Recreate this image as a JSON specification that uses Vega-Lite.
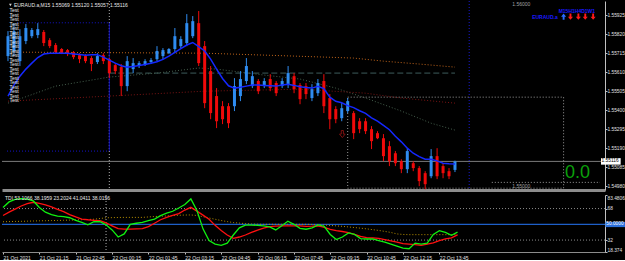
{
"$schema":"https://vega.github.io/schema/vega-lite/v6.json",
"background":"#000000",
"padding":0,
"spacing":5,
"bounds":"flush",
"config":{"view":{"stroke":null},"text":{"font":"Liberation Sans","fontSize":5,"color":"#e0e0e0"}},
"datasets":{
"bars":[
{"t":"2021-10-21T19:45:00Z","o":1.55698,"h":1.55836,"l":1.55670,"c":1.55808,"ma":1.55477,"d":"up","g":69.2,"r":60.1,"m":52.9},
{"t":"2021-10-21T20:00:00Z","o":1.55726,"h":1.55880,"l":1.55698,"c":1.55836,"ma":1.55538,"d":"up","g":75.6,"r":63.9,"m":53.1},
{"t":"2021-10-21T20:15:00Z","o":1.55670,"h":1.55847,"l":1.55643,"c":1.55808,"ma":1.55587,"d":"up","g":78.5,"r":67.4,"m":53.3},
{"t":"2021-10-21T20:30:00Z","o":1.55781,"h":1.55875,"l":1.55764,"c":1.55853,"ma":1.55626,"d":"up","g":79.3,"r":70.9,"m":53.4},
{"t":"2021-10-21T20:45:00Z","o":1.55808,"h":1.55853,"l":1.55797,"c":1.55842,"ma":1.55659,"d":"up","g":78.7,"r":73.5,"m":53.6},
{"t":"2021-10-21T21:00:00Z","o":1.55814,"h":1.55880,"l":1.55797,"c":1.55847,"ma":1.55690,"d":"up","g":76.7,"r":75.2,"m":53.8},
{"t":"2021-10-21T21:15:00Z","o":1.55831,"h":1.55842,"l":1.55753,"c":1.55770,"ma":1.55709,"d":"down","g":69.2,"r":74.0,"m":54.0},
{"t":"2021-10-21T21:30:00Z","o":1.55786,"h":1.55797,"l":1.55742,"c":1.55753,"ma":1.55714,"d":"down","g":63.9,"r":72.3,"m":54.1},
{"t":"2021-10-21T21:45:00Z","o":1.55759,"h":1.55770,"l":1.55709,"c":1.55720,"ma":1.55714,"d":"down","g":61.0,"r":70.0,"m":54.3},
{"t":"2021-10-21T22:00:00Z","o":1.55737,"h":1.55742,"l":1.55709,"c":1.55714,"ma":1.55714,"d":"down","g":59.3,"r":67.1,"m":54.4},
{"t":"2021-10-21T22:15:00Z","o":1.55731,"h":1.55737,"l":1.55698,"c":1.55709,"ma":1.55713,"d":"down","g":58.7,"r":64.5,"m":54.6},
{"t":"2021-10-21T22:30:00Z","o":1.55720,"h":1.55726,"l":1.55681,"c":1.55692,"ma":1.55710,"d":"down","g":57.5,"r":61.0,"m":54.8},
{"t":"2021-10-21T22:45:00Z","o":1.55703,"h":1.55714,"l":1.55659,"c":1.55681,"ma":1.55707,"d":"down","g":54.6,"r":58.4,"m":55.0},
{"t":"2021-10-21T23:00:00Z","o":1.55698,"h":1.55709,"l":1.55659,"c":1.55670,"ma":1.55703,"d":"down","g":52.1,"r":56.0,"m":55.3},
{"t":"2021-10-21T23:15:00Z","o":1.55687,"h":1.55698,"l":1.55615,"c":1.55654,"ma":1.55706,"d":"down","g":49.4,"r":55.2,"m":55.5},
{"t":"2021-10-21T23:30:00Z","o":1.55665,"h":1.55714,"l":1.55654,"c":1.55698,"ma":1.55706,"d":"up","g":52.9,"r":54.6,"m":55.8},
{"t":"2021-10-21T23:45:00Z","o":1.55703,"h":1.55714,"l":1.55654,"c":1.55670,"ma":1.55692,"d":"down","g":52.9,"r":54.1,"m":56.6},
{"t":"2021-10-22T00:00:00Z","o":1.55681,"h":1.55687,"l":1.55576,"c":1.55604,"ma":1.55676,"d":"down","g":49.4,"r":51.7,"m":57.5},
{"t":"2021-10-22T00:15:00Z","o":1.55648,"h":1.55659,"l":1.55598,"c":1.55615,"ma":1.55659,"d":"down","g":43.6,"r":48.3,"m":57.6},
{"t":"2021-10-22T00:30:00Z","o":1.55637,"h":1.55654,"l":1.55477,"c":1.55532,"ma":1.55645,"d":"down","g":35.5,"r":45.0,"m":57.8},
{"t":"2021-10-22T00:45:00Z","o":1.55532,"h":1.55698,"l":1.55504,"c":1.55670,"ma":1.55637,"d":"up","g":39.0,"r":44.5,"m":57.9},
{"t":"2021-10-22T01:00:00Z","o":1.55626,"h":1.55687,"l":1.55604,"c":1.55659,"ma":1.55641,"d":"up","g":50.0,"r":44.4,"m":57.9},
{"t":"2021-10-22T01:15:00Z","o":1.55643,"h":1.55670,"l":1.55632,"c":1.55659,"ma":1.55646,"d":"up","g":51.2,"r":44.8,"m":57.9},
{"t":"2021-10-22T01:30:00Z","o":1.55654,"h":1.55681,"l":1.55643,"c":1.55670,"ma":1.55652,"d":"up","g":52.1,"r":45.1,"m":57.9},
{"t":"2021-10-22T01:45:00Z","o":1.55665,"h":1.55687,"l":1.55654,"c":1.55676,"ma":1.55658,"d":"up","g":54.1,"r":47.4,"m":58.4},
{"t":"2021-10-22T02:00:00Z","o":1.55681,"h":1.55753,"l":1.55670,"c":1.55726,"ma":1.55667,"d":"up","g":56.0,"r":51.2,"m":58.9},
{"t":"2021-10-22T02:15:00Z","o":1.55698,"h":1.55742,"l":1.55681,"c":1.55731,"ma":1.55680,"d":"up","g":59.9,"r":55.2,"m":59.2},
{"t":"2021-10-22T02:30:00Z","o":1.55714,"h":1.55742,"l":1.55709,"c":1.55737,"ma":1.55698,"d":"up","g":62.8,"r":57.9,"m":59.6},
{"t":"2021-10-22T02:45:00Z","o":1.55737,"h":1.55853,"l":1.55714,"c":1.55808,"ma":1.55719,"d":"up","g":64.9,"r":60.2,"m":59.9},
{"t":"2021-10-22T03:00:00Z","o":1.55753,"h":1.55808,"l":1.55742,"c":1.55792,"ma":1.55739,"d":"up","g":68.6,"r":62.2,"m":60.3},
{"t":"2021-10-22T03:15:00Z","o":1.55770,"h":1.55930,"l":1.55753,"c":1.55880,"ma":1.55759,"d":"up","g":72.6,"r":66.3,"m":60.6},
{"t":"2021-10-22T03:30:00Z","o":1.55808,"h":1.55919,"l":1.55797,"c":1.55891,"ma":1.55773,"d":"up","g":79.0,"r":69.4,"m":60.7},
{"t":"2021-10-22T03:45:00Z","o":1.55880,"h":1.55947,"l":1.55643,"c":1.55659,"ma":1.55750,"d":"down","g":65.7,"r":65.1,"m":60.1},
{"t":"2021-10-22T04:00:00Z","o":1.55753,"h":1.55781,"l":1.55410,"c":1.55438,"ma":1.55726,"d":"down","g":44.8,"r":60.5,"m":58.7},
{"t":"2021-10-22T04:15:00Z","o":1.55615,"h":1.55643,"l":1.55349,"c":1.55383,"ma":1.55681,"d":"down","g":31.4,"r":55.8,"m":57.2},
{"t":"2021-10-22T04:30:00Z","o":1.55477,"h":1.55521,"l":1.55300,"c":1.55338,"ma":1.55626,"d":"down","g":27.4,"r":48.8,"m":55.8},
{"t":"2021-10-22T04:45:00Z","o":1.55421,"h":1.55449,"l":1.55322,"c":1.55349,"ma":1.55574,"d":"down","g":26.0,"r":43.0,"m":54.3},
{"t":"2021-10-22T05:00:00Z","o":1.55421,"h":1.55438,"l":1.55300,"c":1.55327,"ma":1.55534,"d":"down","g":28.5,"r":37.8,"m":53.1},
{"t":"2021-10-22T05:15:00Z","o":1.55421,"h":1.55576,"l":1.55394,"c":1.55532,"ma":1.55521,"d":"up","g":37.8,"r":33.9,"m":52.0},
{"t":"2021-10-22T05:30:00Z","o":1.55477,"h":1.55615,"l":1.55449,"c":1.55571,"ma":1.55526,"d":"up","g":45.9,"r":35.5,"m":51.4},
{"t":"2021-10-22T05:45:00Z","o":1.55560,"h":1.55687,"l":1.55543,"c":1.55643,"ma":1.55532,"d":"up","g":49.1,"r":37.8,"m":50.8},
{"t":"2021-10-22T06:00:00Z","o":1.55532,"h":1.55615,"l":1.55521,"c":1.55587,"ma":1.55538,"d":"up","g":49.1,"r":40.7,"m":50.3},
{"t":"2021-10-22T06:15:00Z","o":1.55560,"h":1.55571,"l":1.55488,"c":1.55504,"ma":1.55538,"d":"down","g":48.8,"r":43.4,"m":50.1},
{"t":"2021-10-22T06:30:00Z","o":1.55532,"h":1.55576,"l":1.55521,"c":1.55560,"ma":1.55536,"d":"up","g":48.3,"r":45.6,"m":50.0},
{"t":"2021-10-22T06:45:00Z","o":1.55571,"h":1.55598,"l":1.55504,"c":1.55521,"ma":1.55534,"d":"down","g":47.1,"r":47.4,"m":50.0},
{"t":"2021-10-22T07:00:00Z","o":1.55549,"h":1.55560,"l":1.55477,"c":1.55493,"ma":1.55532,"d":"down","g":43.6,"r":47.9,"m":50.0},
{"t":"2021-10-22T07:15:00Z","o":1.55532,"h":1.55576,"l":1.55521,"c":1.55560,"ma":1.55538,"d":"up","g":48.3,"r":48.3,"m":50.0},
{"t":"2021-10-22T07:30:00Z","o":1.55538,"h":1.55643,"l":1.55521,"c":1.55604,"ma":1.55542,"d":"up","g":53.5,"r":48.3,"m":50.0},
{"t":"2021-10-22T07:45:00Z","o":1.55587,"h":1.55604,"l":1.55493,"c":1.55515,"ma":1.55536,"d":"down","g":50.0,"r":48.3,"m":50.0},
{"t":"2021-10-22T08:00:00Z","o":1.55538,"h":1.55549,"l":1.55432,"c":1.55460,"ma":1.55528,"d":"down","g":45.4,"r":48.3,"m":50.0},
{"t":"2021-10-22T08:15:00Z","o":1.55532,"h":1.55549,"l":1.55460,"c":1.55488,"ma":1.55524,"d":"down","g":44.4,"r":47.7,"m":50.0},
{"t":"2021-10-22T08:30:00Z","o":1.55466,"h":1.55543,"l":1.55449,"c":1.55515,"ma":1.55521,"d":"up","g":45.9,"r":47.9,"m":49.8},
{"t":"2021-10-22T08:45:00Z","o":1.55493,"h":1.55571,"l":1.55477,"c":1.55549,"ma":1.55531,"d":"up","g":49.4,"r":48.3,"m":49.5},
{"t":"2021-10-22T09:00:00Z","o":1.55560,"h":1.55598,"l":1.55383,"c":1.55421,"ma":1.55518,"d":"down","g":47.7,"r":46.5,"m":49.2},
{"t":"2021-10-22T09:15:00Z","o":1.55466,"h":1.55488,"l":1.55294,"c":1.55349,"ma":1.55471,"d":"down","g":38.4,"r":44.1,"m":48.7},
{"t":"2021-10-22T09:30:00Z","o":1.55405,"h":1.55421,"l":1.55327,"c":1.55349,"ma":1.55448,"d":"down","g":32.6,"r":42.7,"m":48.2},
{"t":"2021-10-22T09:45:00Z","o":1.55355,"h":1.55438,"l":1.55338,"c":1.55410,"ma":1.55440,"d":"up","g":35.5,"r":41.8,"m":47.7},
{"t":"2021-10-22T10:00:00Z","o":1.55394,"h":1.55466,"l":1.55383,"c":1.55449,"ma":1.55424,"d":"up","g":40.1,"r":40.6,"m":47.0},
{"t":"2021-10-22T10:15:00Z","o":1.55383,"h":1.55394,"l":1.55239,"c":1.55272,"ma":1.55413,"d":"down","g":38.4,"r":38.4,"m":46.3},
{"t":"2021-10-22T10:30:00Z","o":1.55338,"h":1.55355,"l":1.55272,"c":1.55294,"ma":1.55396,"d":"down","g":33.7,"r":36.1,"m":45.6},
{"t":"2021-10-22T10:45:00Z","o":1.55338,"h":1.55355,"l":1.55267,"c":1.55283,"ma":1.55381,"d":"down","g":33.2,"r":34.9,"m":44.8},
{"t":"2021-10-22T11:00:00Z","o":1.55294,"h":1.55311,"l":1.55184,"c":1.55228,"ma":1.55357,"d":"down","g":33.4,"r":34.4,"m":43.9},
{"t":"2021-10-22T11:15:00Z","o":1.55272,"h":1.55283,"l":1.55239,"c":1.55244,"ma":1.55338,"d":"down","g":31.4,"r":33.9,"m":43.0},
{"t":"2021-10-22T11:30:00Z","o":1.55244,"h":1.55267,"l":1.55117,"c":1.55145,"ma":1.55315,"d":"down","g":29.7,"r":32.6,"m":41.9},
{"t":"2021-10-22T11:45:00Z","o":1.55200,"h":1.55228,"l":1.55090,"c":1.55117,"ma":1.55291,"d":"down","g":27.4,"r":31.1,"m":40.7},
{"t":"2021-10-22T12:00:00Z","o":1.55161,"h":1.55173,"l":1.55090,"c":1.55106,"ma":1.55255,"d":"down","g":25.0,"r":29.7,"m":39.0},
{"t":"2021-10-22T12:15:00Z","o":1.55117,"h":1.55128,"l":1.55051,"c":1.55073,"ma":1.55224,"d":"down","g":22.7,"r":28.0,"m":38.4},
{"t":"2021-10-22T12:30:00Z","o":1.55073,"h":1.55189,"l":1.55051,"c":1.55173,"ma":1.55189,"d":"up","g":22.1,"r":27.4,"m":38.2},
{"t":"2021-10-22T12:45:00Z","o":1.55106,"h":1.55117,"l":1.55062,"c":1.55079,"ma":1.55161,"d":"down","g":28.5,"r":26.7,"m":38.2},
{"t":"2021-10-22T13:00:00Z","o":1.55079,"h":1.55090,"l":1.54979,"c":1.55007,"ma":1.55142,"d":"down","g":27.4,"r":26.0,"m":38.2},
{"t":"2021-10-22T13:15:00Z","o":1.55051,"h":1.55062,"l":1.54962,"c":1.54990,"ma":1.55128,"d":"down","g":28.5,"r":27.4,"m":38.2},
{"t":"2021-10-22T13:30:00Z","o":1.55034,"h":1.55184,"l":1.55023,"c":1.55145,"ma":1.55128,"d":"up","g":38.4,"r":28.9,"m":38.2},
{"t":"2021-10-22T13:45:00Z","o":1.55145,"h":1.55189,"l":1.55018,"c":1.55034,"ma":1.55119,"d":"down","g":42.8,"r":31.4,"m":38.2},
{"t":"2021-10-22T14:00:00Z","o":1.55090,"h":1.55106,"l":1.55023,"c":1.55051,"ma":1.55106,"d":"down","g":40.7,"r":33.4,"m":38.2},
{"t":"2021-10-22T14:15:00Z","o":1.55062,"h":1.55079,"l":1.55018,"c":1.55034,"ma":1.55103,"d":"down","g":37.5,"r":34.6,"m":38.2},
{"t":"2021-10-22T14:30:00Z","o":1.55069,"h":1.55120,"l":1.55057,"c":1.55116,"ma":1.55101,"d":"up","g":41.0,"r":38.0,"m":38.2}
],
"curves":[
{"s":"orange","t":"2021-10-21T19:45:00Z","p":1.55720},
{"s":"orange","t":"2021-10-22T04:00:00Z","p":1.55714},
{"s":"orange","t":"2021-10-22T07:45:00Z","p":1.55698},
{"s":"orange","t":"2021-10-22T10:15:00Z","p":1.55687},
{"s":"orange","t":"2021-10-22T11:30:00Z","p":1.55670},
{"s":"orange","t":"2021-10-22T13:00:00Z","p":1.55654},
{"s":"orange","t":"2021-10-22T14:30:00Z","p":1.55637},
{"s":"grey","t":"2021-10-21T19:45:00Z","p":1.55438},
{"s":"grey","t":"2021-10-21T21:45:00Z","p":1.55532},
{"s":"grey","t":"2021-10-22T00:00:00Z","p":1.55582},
{"s":"grey","t":"2021-10-22T02:00:00Z","p":1.55604},
{"s":"grey","t":"2021-10-22T03:45:00Z","p":1.55632},
{"s":"grey","t":"2021-10-22T04:30:00Z","p":1.55626},
{"s":"grey","t":"2021-10-22T06:30:00Z","p":1.55593},
{"s":"grey","t":"2021-10-22T08:00:00Z","p":1.55571},
{"s":"grey","t":"2021-10-22T09:30:00Z","p":1.55521},
{"s":"grey","t":"2021-10-22T10:45:00Z","p":1.55466},
{"s":"grey","t":"2021-10-22T12:15:00Z","p":1.55394},
{"s":"grey","t":"2021-10-22T13:30:00Z","p":1.55327},
{"s":"grey","t":"2021-10-22T14:30:00Z","p":1.55289},
{"s":"darkred","t":"2021-10-21T19:45:00Z","p":1.55449},
{"s":"darkred","t":"2021-10-22T00:00:00Z","p":1.55477},
{"s":"darkred","t":"2021-10-22T04:00:00Z","p":1.55504},
{"s":"darkred","t":"2021-10-22T08:00:00Z","p":1.55515},
{"s":"darkred","t":"2021-10-22T10:45:00Z","p":1.55493},
{"s":"darkred","t":"2021-10-22T12:15:00Z","p":1.55466},
{"s":"darkred","t":"2021-10-22T14:30:00Z","p":1.55438}
],
"tests":[
{"p":1.55952},{"p":1.55927},{"p":1.55902},{"p":1.55878},{"p":1.55853},{"p":1.55828},{"p":1.55803},{"p":1.55778},{"p":1.55753},{"p":1.55728},{"p":1.55703},{"p":1.55679},{"p":1.55654},{"p":1.55629},{"p":1.55604},{"p":1.55579},{"p":1.55554},{"p":1.55529},{"p":1.55504},{"p":1.55480},{"p":1.55455}
],
"arrows":[
{"t":"2021-10-22T19:03:24Z","p":1.55916,"d":"up"},
{"t":"2021-10-22T19:20:42Z","p":1.55916,"d":"down"},
{"t":"2021-10-22T19:40:34Z","p":1.55916,"d":"down"},
{"t":"2021-10-22T19:57:54Z","p":1.55916,"d":"down"},
{"t":"2021-10-22T20:17:42Z","p":1.55916,"d":"down"}
]
},
"vconcat":[
{
"width":603,"height":189,
"layer":[
{"data":{"values":[{"p":1.55116}]},"mark":{"type":"rule","color":"#7a7a7a","strokeWidth":1},"encoding":{"y":{"field":"p","type":"quantitative","title":null}}},
{"data":{"values":[{"t":"2021-10-22T00:00:00Z","t2":"2021-10-22T14:30:00Z","p":1.55604}]},"mark":{"type":"rule","color":"#3d5c5c","strokeWidth":1,"strokeDash":[6,3]},"encoding":{"x":{"field":"t","type":"temporal","title":null},"x2":{"field":"t2"},"y":{"field":"p","type":"quantitative","title":null}}},
{"data":{"name":"curves"},"mark":{"type":"line","strokeWidth":1,"strokeDash":[1,2]},"encoding":{"x":{"field":"t","type":"temporal","title":null},"y":{"field":"p","type":"quantitative","title":null},"stroke":{"field":"s","type":"nominal","legend":null,"scale":{"domain":["orange","grey","darkred"],"range":["#c0641a","#46604e","#7a1414"]}}}},
{"data":{"values":[{"t":"2021-10-21T20:07:15Z","t2":"2021-10-22T00:00:00Z","p":1.55882},{"t":"2021-10-21T19:42:30Z","t2":"2021-10-22T00:00:00Z","p":1.55173}]},"mark":{"type":"rule","color":"#1414c8","strokeWidth":1,"strokeDash":[1,2]},"encoding":{"x":{"field":"t","type":"temporal","title":null},"x2":{"field":"t2"},"y":{"field":"p","type":"quantitative","title":null}}},
{"data":{"values":[{"t":"2021-10-22T00:00:00Z"}]},"mark":{"type":"rule","color":"#b0b0b0","strokeWidth":1,"strokeDash":[1,2]},"encoding":{"x":{"field":"t","type":"temporal","title":null}}},
{"data":{"values":[{"t":"2021-10-22T00:00:00Z","p":1.55173,"p2":1.55882}]},"mark":{"type":"rule","color":"#1010c0","strokeWidth":1},"encoding":{"x":{"field":"t","type":"temporal","title":null},"y":{"field":"p","type":"quantitative","title":null},"y2":{"field":"p2"}}},
{"data":{"values":[{"t":"2021-10-22T15:05:48Z"}]},"mark":{"type":"rule","color":"#1a1ad0","strokeWidth":1,"strokeDash":[1,2]},"encoding":{"x":{"field":"t","type":"temporal","title":null}}},
{"data":{"values":[{"t":"2021-10-22T10:00:00Z","t2":"2021-10-22T19:03:24Z","p":1.54968,"p2":1.55471}]},"mark":{"type":"rect","fill":null,"filled":false,"stroke":"#9a9a9a","strokeWidth":1,"strokeDash":[1,2]},"encoding":{"x":{"field":"t","type":"temporal","title":null},"x2":{"field":"t2"},"y":{"field":"p","type":"quantitative","title":null},"y2":{"field":"p2"}}},
{"data":{"values":[{"t":"2021-10-22T16:02:42Z","t2":"2021-10-22T20:35:00Z","p":1.55000}]},"mark":{"type":"rule","color":"#9a9a9a","strokeWidth":1,"strokeDash":[1,2]},"encoding":{"x":{"field":"t","type":"temporal","title":null},"x2":{"field":"t2"},"y":{"field":"p","type":"quantitative","title":null}}},
{"data":{"values":[{"t":"2021-10-22T17:17:00Z","p":1.55985,"txt":"1.56000"},{"t":"2021-10-22T17:17:00Z","p":1.54982,"txt":"1.55000"}]},"mark":{"type":"text","align":"center","baseline":"middle","color":"#a0a0a0"},"encoding":{"x":{"field":"t","type":"temporal","title":null},"y":{"field":"p","type":"quantitative","title":null},"text":{"field":"txt"}}},
{"data":{"name":"bars"},"mark":{"type":"rule","strokeWidth":1},"encoding":{
"x":{"field":"t","type":"temporal","title":null,"scale":{"type":"utc","domain":[{"year":2021,"month":10,"date":21,"hours":19,"minutes":42,"seconds":30,"utc":true},{"year":2021,"month":10,"date":22,"hours":20,"minutes":35,"utc":true}]},"axis":{"orient":"bottom","labels":false,"ticks":false,"grid":false,"domainColor":"#8c8c8c","domainWidth":3}},
"y":{"field":"l","type":"quantitative","title":null,"scale":{"domain":[1.549579,1.560024],"zero":false,"nice":false},"axis":{"orient":"right","values":[1.55925,1.5582,1.55715,1.5561,1.55505,1.554,1.55295,1.5519,1.55085,1.5498],"tickCount":50,"format":".5f","labelFont":"Liberation Sans","labelFontSize":4.8,"labelColor":"#e0e0e0","tickColor":"#c0c0c0","tickSize":2,"labelPadding":0,"domainColor":"#c0c0c0","grid":false,"labelFlush":false,"labelOverlap":false}},
"y2":{"field":"h"},
"color":{"condition":{"test":"datum.d == 'up'","value":"#2f8cf0"},"value":"#f00a0a"}}},
{"data":{"name":"bars"},"mark":{"type":"bar","size":3},"encoding":{"x":{"field":"t","type":"temporal","title":null},"y":{"field":"o","type":"quantitative","title":null},"y2":{"field":"c"},"color":{"condition":{"test":"datum.d == 'up'","value":"#2f8cf0"},"value":"#f00a0a"}}},
{"data":{"name":"bars"},"mark":{"type":"line","color":"#1428ff","strokeWidth":1.5},"encoding":{"x":{"field":"t","type":"temporal","title":null},"y":{"field":"ma","type":"quantitative","title":null}}},
{"data":{"values":[{"t":"2021-10-22T09:46:30Z","p":1.55267}]},"mark":{"type":"point","shape":"M-0.3,-1L0.3,-1L0.3,0L0.8,0L0,1L-0.8,0L-0.3,0Z","size":50,"filled":false,"stroke":"#b01818","strokeWidth":1},"encoding":{"x":{"field":"t","type":"temporal","title":null},"y":{"field":"p","type":"quantitative","title":null}}},
{"data":{"values":[{"t":"2021-10-21T19:51:00Z","p":1.5598}]},"mark":{"type":"point","shape":"triangle-down","size":8,"filled":true,"color":"#d0d0d0","opacity":1},"encoding":{"x":{"field":"t","type":"temporal","title":null},"y":{"field":"p","type":"quantitative","title":null}}},
{"data":{"values":[{"t":"2021-10-21T19:59:50Z","p":1.5598,"txt":"EURAUD.a,M15  1.55069 1.55120 1.55057 1.55116"}]},"mark":{"type":"text","align":"left","baseline":"middle","color":"#e8e8e8"},"encoding":{"x":{"field":"t","type":"temporal","title":null},"y":{"field":"p","type":"quantitative","title":null},"text":{"field":"txt"}}},
{"data":{"name":"tests"},"mark":{"type":"text","align":"left","baseline":"middle","color":"#e8e8e8","text":"Test"},"encoding":{"x":{"datum":{"year":2021,"month":10,"date":21,"hours":19,"minutes":49,"utc":true},"type":"temporal"},"y":{"field":"p","type":"quantitative","title":null}}},
{"data":{"values":[{"t":"2021-10-22T20:22:36Z","p":1.55949,"txt":"M15H1H4D1W1"},{"t":"2021-10-22T18:48:36Z","p":1.55916,"txt":"EURAUD.a"}]},"mark":{"type":"text","align":"right","baseline":"middle","color":"#1a1aff","fontWeight":"bold"},"encoding":{"x":{"field":"t","type":"temporal","title":null},"y":{"field":"p","type":"quantitative","title":null},"text":{"field":"txt"}}},
{"data":{"name":"arrows"},"transform":[{"filter":"datum.d == 'down'"}],"mark":{"type":"point","shape":"M-0.3,-1L0.3,-1L0.3,0L0.8,0L0,1L-0.8,0L-0.3,0Z","size":40,"filled":true,"color":"#ff1a1a","opacity":1},"encoding":{"x":{"field":"t","type":"temporal","title":null},"y":{"field":"p","type":"quantitative","title":null}}},
{"data":{"name":"arrows"},"transform":[{"filter":"datum.d == 'up'"}],"mark":{"type":"point","shape":"M-0.3,1L0.3,1L0.3,0L0.8,0L0,-1L-0.8,0L-0.3,0Z","size":40,"filled":true,"color":"#2a6bff","opacity":1},"encoding":{"x":{"field":"t","type":"temporal","title":null},"y":{"field":"p","type":"quantitative","title":null}}},
{"data":{"values":[{"t":"2021-10-22T19:38:06Z","p":1.55054,"txt":"0.0"}]},"mark":{"type":"text","align":"center","baseline":"middle","fontSize":18,"color":"#0aa00a","font":"Liberation Sans"},"encoding":{"x":{"field":"t","type":"temporal","title":null},"y":{"field":"p","type":"quantitative","title":null},"text":{"field":"txt"}}},
{"data":{"values":[{"t":"2021-10-22T20:37:30Z","t2":"2021-10-22T21:27:00Z","p":1.55098,"p2":1.55134}]},"mark":{"type":"rect","color":"#ffffff"},"encoding":{"x":{"field":"t","type":"temporal","title":null},"x2":{"field":"t2"},"y":{"field":"p","type":"quantitative","title":null},"y2":{"field":"p2"}}},
{"data":{"values":[{"t":"2021-10-22T20:39:00Z","p":1.55116,"txt":"1.55116"}]},"mark":{"type":"text","align":"left","baseline":"middle","color":"#000000","fontSize":4.8},"encoding":{"x":{"field":"t","type":"temporal","title":null},"y":{"field":"p","type":"quantitative","title":null},"text":{"field":"txt"}}}
]
},
{
"width":603,"height":57,
"layer":[
{"data":{"values":[{"v":68},{"v":32}]},"mark":{"type":"rule","color":"#8a8a8a","strokeWidth":1,"strokeDash":[1,2]},"encoding":{"y":{"field":"v","type":"quantitative","title":null}}},
{"data":{"values":[{"v":50}]},"mark":{"type":"rule","color":"#1e5fc8","strokeWidth":1.3},"encoding":{"y":{"field":"v","type":"quantitative","title":null}}},
{"data":{"values":[{"t":"2021-10-22T00:00:00Z"}]},"mark":{"type":"rule","color":"#b0b0b0","strokeWidth":1,"strokeDash":[1,2]},"encoding":{"x":{"field":"t","type":"temporal","title":null}}},
{"data":{"name":"bars"},"mark":{"type":"line","color":"#b89000","strokeWidth":1,"strokeDash":[1,2]},"encoding":{"x":{"field":"t","type":"temporal","title":null},"y":{"field":"m","type":"quantitative","title":null}}},
{"data":{"name":"bars"},"mark":{"type":"line","color":"#ff1010","strokeWidth":1.3},"encoding":{"x":{"field":"t","type":"temporal","title":null},"y":{"field":"r","type":"quantitative","title":null}}},
{"data":{"name":"bars"},"mark":{"type":"line","color":"#10f010","strokeWidth":1.3},"encoding":{
"x":{"field":"t","type":"temporal","title":null,"scale":{"type":"utc","domain":[{"year":2021,"month":10,"date":21,"hours":19,"minutes":42,"seconds":30,"utc":true},{"year":2021,"month":10,"date":22,"hours":20,"minutes":35,"utc":true}]},"axis":{"orient":"bottom","values":[{"year":2021,"month":10,"date":21,"hours":19,"minutes":45,"utc":true},{"year":2021,"month":10,"date":21,"hours":21,"minutes":15,"utc":true},{"year":2021,"month":10,"date":21,"hours":22,"minutes":45,"utc":true},{"year":2021,"month":10,"date":22,"hours":0,"minutes":15,"utc":true},{"year":2021,"month":10,"date":22,"hours":1,"minutes":45,"utc":true},{"year":2021,"month":10,"date":22,"hours":3,"minutes":15,"utc":true},{"year":2021,"month":10,"date":22,"hours":4,"minutes":45,"utc":true},{"year":2021,"month":10,"date":22,"hours":6,"minutes":15,"utc":true},{"year":2021,"month":10,"date":22,"hours":7,"minutes":45,"utc":true},{"year":2021,"month":10,"date":22,"hours":9,"minutes":15,"utc":true},{"year":2021,"month":10,"date":22,"hours":10,"minutes":45,"utc":true},{"year":2021,"month":10,"date":22,"hours":12,"minutes":15,"utc":true},{"year":2021,"month":10,"date":22,"hours":13,"minutes":45,"utc":true}],"tickCount":50,"labelExpr":"utcFormat(datum.value, '%H:%M') == '19:45' ? '21 Oct 2021' : utcFormat(datum.value, '%d %b %H:%M')","labelAlign":"left","labelFont":"Liberation Sans","labelFontSize":5,"labelColor":"#e0e0e0","tickSize":2,"tickColor":"#c0c0c0","domainColor":"#8c8c8c","labelPadding":1,"grid":false,"labelFlush":false,"labelOverlap":false}},
"y":{"field":"g","type":"quantitative","title":null,"scale":{"domain":[18.374,83.4806],"zero":false,"nice":false},"axis":{"orient":"right","values":[83.4806,68,50,32,18.374],"tickCount":50,"format":".4~f","labelExpr":"datum.value == 50 ? '' : datum.label","labelFont":"Liberation Sans","labelFontSize":4.8,"labelColor":"#e0e0e0","tickColor":"#c0c0c0","tickSize":2,"labelPadding":0,"domainColor":"#c0c0c0","grid":false,"labelFlush":true,"labelOverlap":false}}}},
{"data":{"values":[{"t":"2021-10-21T19:50:00Z","v":80.6,"txt":"TDI 53.1066 38.1959 23.2024 41.0411 38.0156"}]},"mark":{"type":"text","align":"left","baseline":"middle","color":"#e8e8e8"},"encoding":{"x":{"field":"t","type":"temporal","title":null},"y":{"field":"v","type":"quantitative","title":null},"text":{"field":"txt"}}},
{"data":{"values":[{"t":"2021-10-22T20:36:00Z","t2":"2021-10-22T21:27:00Z","v":46.8,"v2":52.8}]},"mark":{"type":"rect","color":"#2a6fdc"},"encoding":{"x":{"field":"t","type":"temporal","title":null},"x2":{"field":"t2"},"y":{"field":"v","type":"quantitative","title":null},"y2":{"field":"v2"}}},
{"data":{"values":[{"t":"2021-10-22T20:38:00Z","v":49.8,"txt":"50.0000"}]},"mark":{"type":"text","align":"left","baseline":"middle","color":"#ffffff","fontSize":4.8},"encoding":{"x":{"field":"t","type":"temporal","title":null},"y":{"field":"v","type":"quantitative","title":null},"text":{"field":"txt"}}}
]
}
]
}
